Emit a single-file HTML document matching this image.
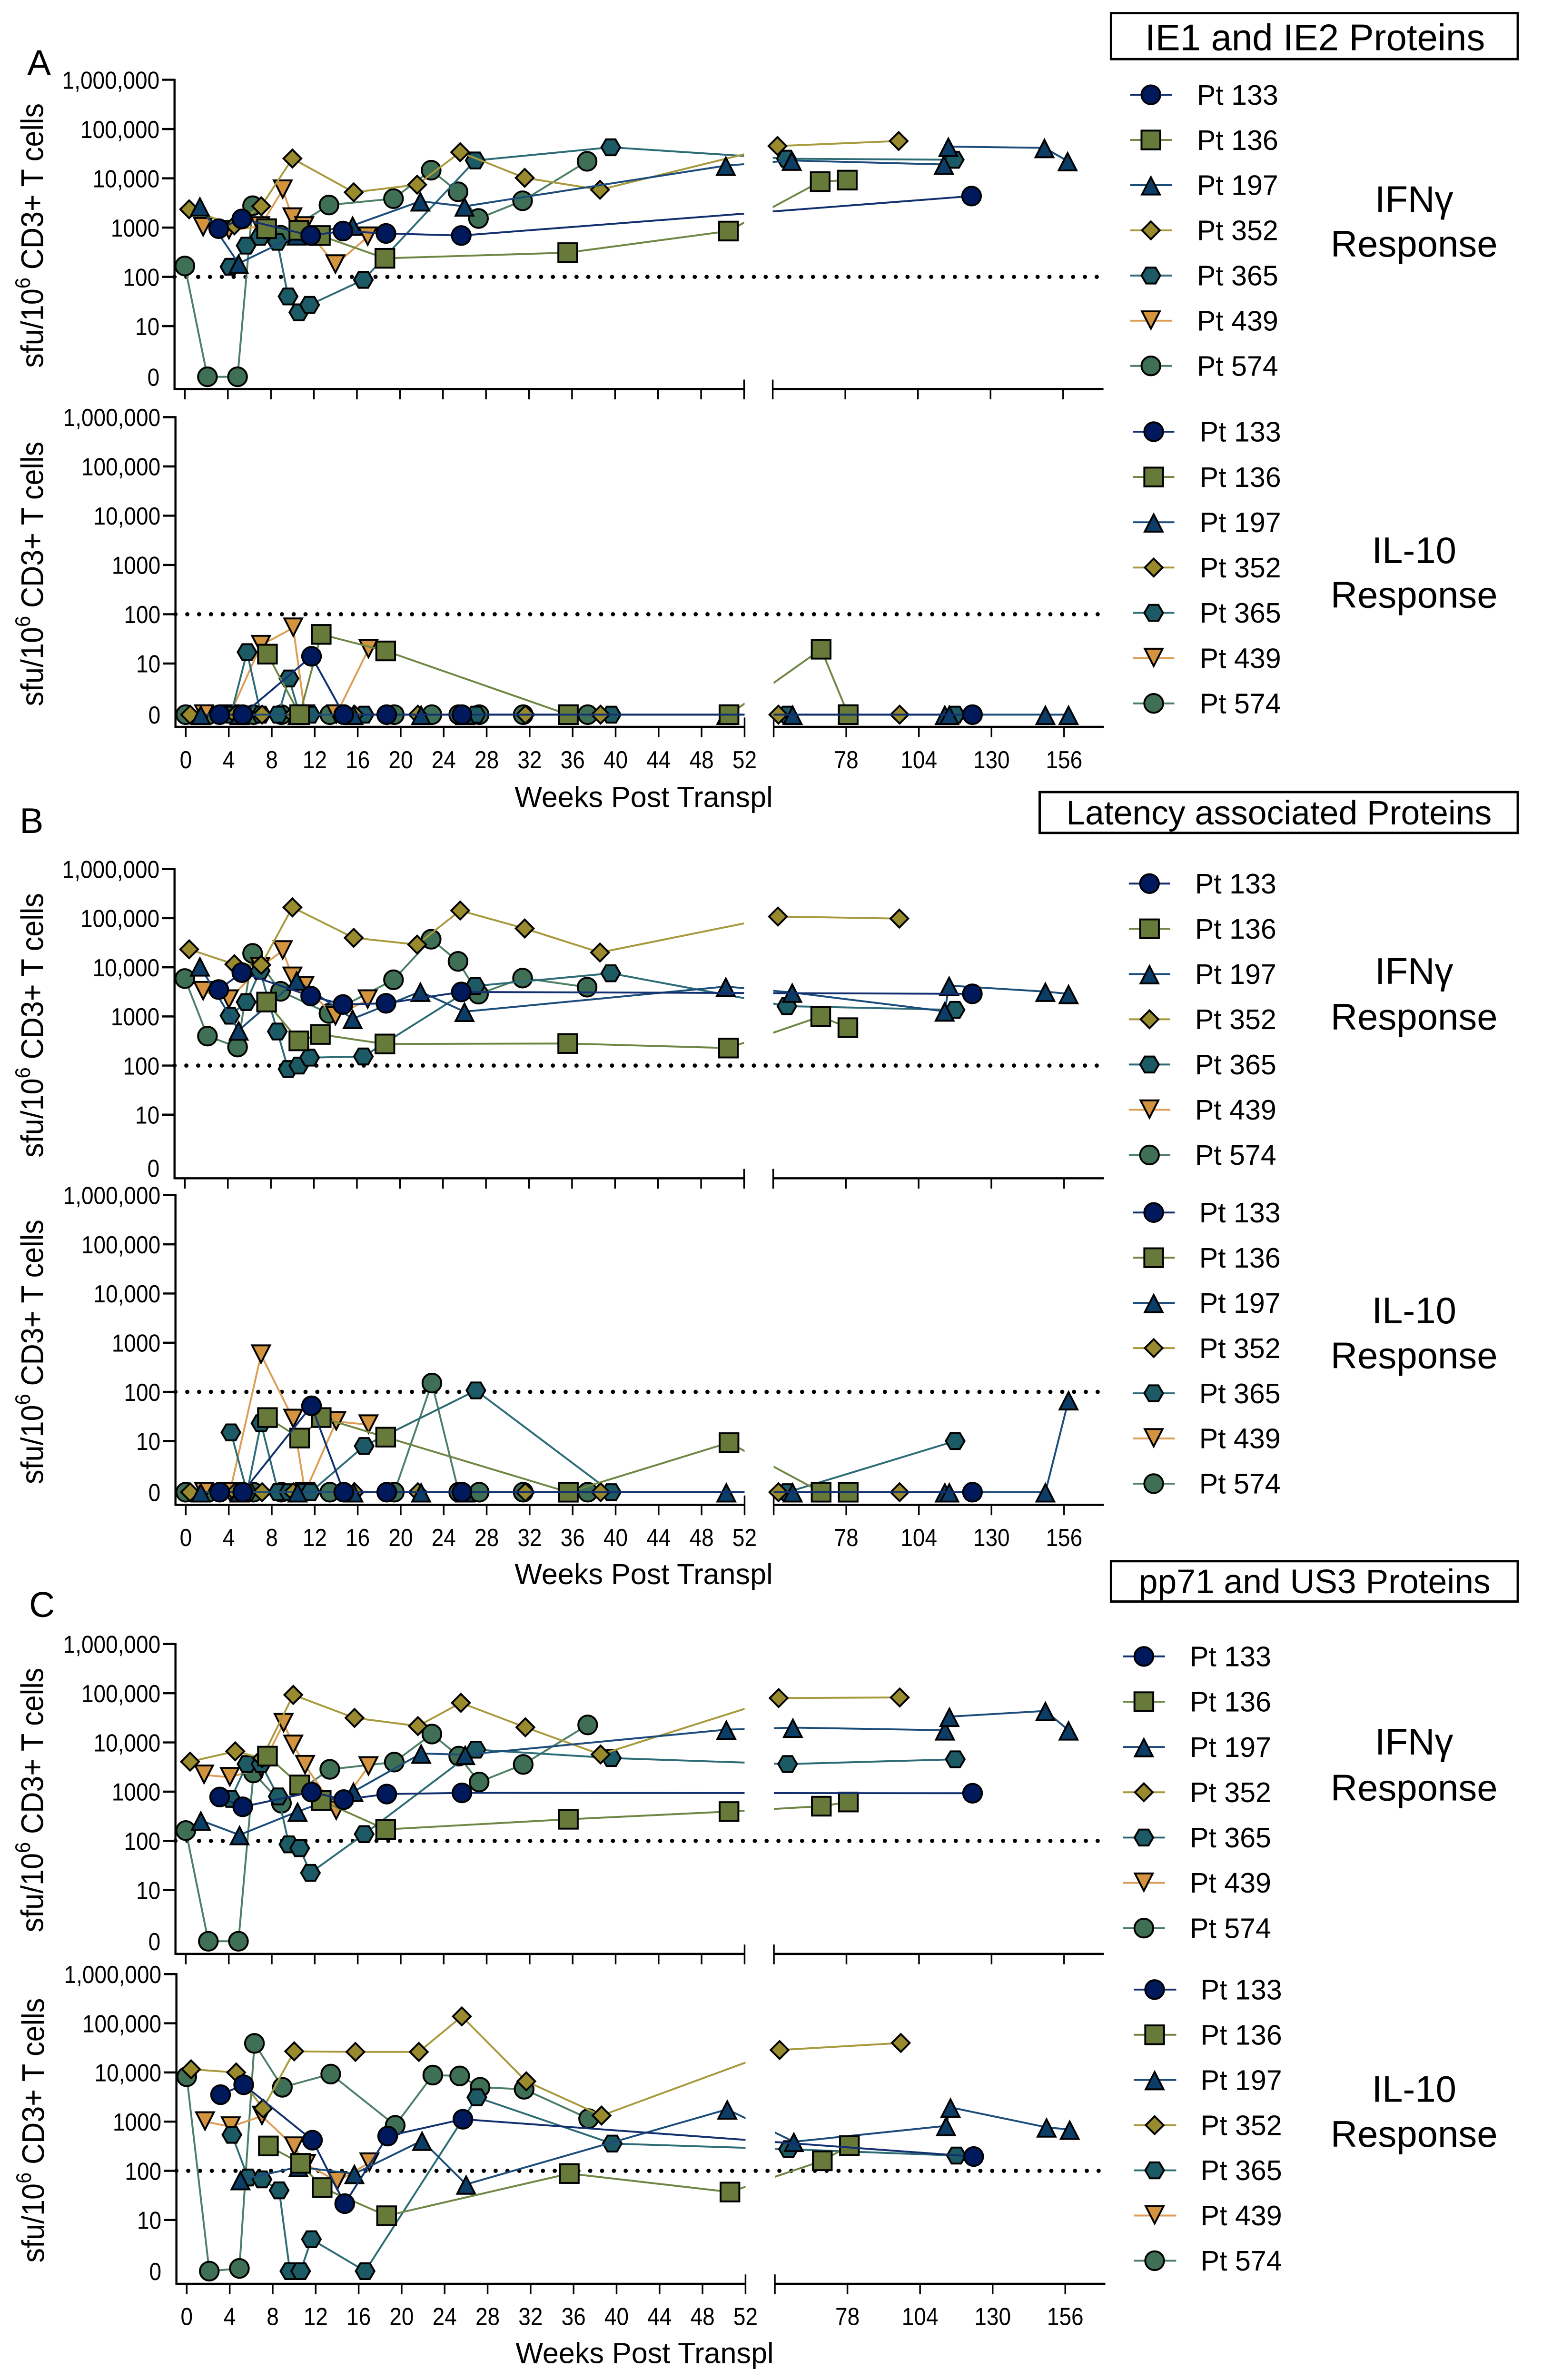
<!DOCTYPE html>
<html lang="en">
<head>
<meta charset="utf-8">
<title>T cell responses by patient</title>
<style>
html,body{margin:0;padding:0;background:#fff;width:100%;height:100%;overflow:hidden;}
svg{display:block;height:100vh;width:calc(100vh * 3282 / 5072);font-family:"Liberation Sans",Arial,sans-serif;}
text{fill:#000;}
</style>
</head>
<body>
<svg id="chart" xmlns="http://www.w3.org/2000/svg" viewBox="0 0 3282 5072" preserveAspectRatio="none">
  <rect x="0" y="0" width="3282" height="5072" fill="#fff"/>
  <text x="58" y="160" font-size="76">A</text>
  <text x="42" y="1775" font-size="76">B</text>
  <text x="62" y="3446" font-size="76">C</text>
  <rect x="2368" y="28" width="867" height="98" fill="#fff" stroke="#000" stroke-width="5"/>
  <text x="2803" y="107" font-size="79" text-anchor="middle">IE1 and IE2 Proteins</text>
  <rect x="2216" y="1688" width="1019" height="87" fill="#fff" stroke="#000" stroke-width="5"/>
  <text x="2726" y="1757" font-size="72.5" text-anchor="middle">Latency associated Proteins</text>
  <rect x="2368" y="3327" width="867" height="86" fill="#fff" stroke="#000" stroke-width="5"/>
  <text x="2802" y="3395" font-size="72.5" text-anchor="middle">pp71 and US3 Proteins</text>
</svg>
<script>
// ---------- categories ----------
const patientNames = ['Pt 133','Pt 136','Pt 197','Pt 352','Pt 365','Pt 439','Pt 574'];
const yTickLabels = ['1,000,000','100,000','10,000','1000','100','10','0'];
const xTicksEarly = [0,4,8,12,16,20,24,28,32,36,40,44,48,52];
const xTicksLate = [78,104,130,156];

// ---------- visit weeks per patient ----------
const weeks133 = [3.15,5.3,11.7,14.7,18.7,25.7,123.2];
const weeks136 = [7.6,10.6,12.6,18.6,35.6,50.55,69,78.7];
const weeks197 = [1.4,5,10.4,15.6,21.9,26,50.3,58.8,113.3,114.9,149.3,157.6];
const weeks352 = [0.4,4.6,7.1,10,15.7,21.6,25.6,31.6,38.6,53.7,97.1];
const weeks365 = [4.2,5.7,7,8.6,9.6,10.6,11.6,16.6,27,39.6,56.9,117];
const weeks439 = [1.7,4.1,7,9.1,10,11.1,14,17];
const weeks574 = [0,2.1,4.9,6.3,8.9,13.4,19.4,22.9,25.4,27.3,31.4,37.4];

// ---------- sfu values: panel A, IFN-gamma ----------
const aIfn133 = [950,1500,690,850,760,690,4360];
const aIfn136 = [950,880,690,238,310,850,8570,9200];
const aIfn197 = [2700,187,700,1100,3430,2700,18100,23000,19100,44000,41500,22400];
const aIfn352 = [2350,1110,2710,25200,5200,7430,33900,10230,5860,45200,57200];
const aIfn365 = [160,430,650,515,40,19,27,87,23000,42600,25000,23800];
const aIfn439 = [1010,880,1050,5860,1590,1050,177,650];
const aIfn574 = [166,0,0,2775,700,2870,3870,14600,5330,1530,3500,22100];
// ---------- panel A, IL-10 ----------
const aIl133 = [0,0,14,0,0,0,0];
const aIl136 = [15.5,0,39,18,0,0,19.5,0];
const aIl197 = [0,0,0,0,0,0,0,0,0,0,0,0];
const aIl352 = [0,0,0,0,0,0,0,0,0,0,0];
const aIl365 = [0,17,0,0,5.1,0,0,0,0,0,0,0];
const aIl439 = [0,0,23.5,null,53,0,0,19.5];
const aIl574 = [0,0,0,0,0,0,0,0,0,0,0,0];
// ---------- panel B, IFN-gamma ----------
const bIfn133 = [3520,7800,2600,1750,1850,3150,2880];
const bIfn136 = [1960,318,430,275,281,227,1000,590];
const bIfn197 = [10500,521,5400,895,3200,1250,4060,3070,1270,4240,3200,2880];
const bIfn352 = [23200,11560,11200,166000,39800,29000,143000,61700,20000,108000,98000];
const bIfn365 = [1035,1960,8450,493,85,100,145,153,4170,7550,1620,1360];
const bIfn439 = [3250,2190,10000,21900,6380,4070,1000,2190];
const bIfn574 = [5900,398,238,19200,3250,1150,5570,37200,13200,2840,6030,3940];
// ---------- panel B, IL-10 ----------
const bIl133 = [0,0,52,0,0,0,0];
const bIl136 = [30,11.5,30,12,0,9.3,0,0];
const bIl197 = [0,0,0,0,0,0,0,0,0,0,0,68];
const bIl352 = [0,0,0,0,0,0,0,0,0,0,0];
const bIl365 = [15,0,23,0,0,0,0,8,107,0,0,10];
const bIl439 = [0,0,569,null,28,0,25,21.5];
const bIl574 = [0,0,0,0,0,0,0,151,0,0,0,0];
// ---------- panel C, IFN-gamma ----------
const cIfn133 = [780,493,980,690,893,945,930];
const cIfn136 = [5270,1370,660,171,275,394,507,616];
const cIfn197 = [260,132,394,1000,5970,5630,18200,20000,17700,33400,43700,17700];
const cIfn352 = [4070,6600,4800,92500,31500,21500,63800,20300,5700,79700,82000];
const cIfn365 = [714,3640,3640,800,85,71,22.4,137,7140,4820,3640,4540];
const cIfn439 = [2190,1960,3000,24500,8900,3440,407,3240];
const cIfn574 = [162,0,0,2400,583,2840,3980,14800,5270,1570,3570,22700];
// ---------- panel C, IL-10 ----------
const cIl133 = [3530,5620,420,21.5,509,1120,195];
const cIl136 = [320,142,45.5,12.2,88,37,160,325];
const cIl197 = [null,65,120,87,411,53,1780,390,820,1950,767,690];
const cIl352 = [11600,10000,1850,26900,26200,26200,138000,6600,1330,28600,39800];
const cIl365 = [540,73,67,40,0,0,4.2,0,3120,358,275,204];
const cIl439 = [1000,790,1300,null,309,136,61,146];
const cIl574 = [8180,0,1.13,39000,5000,9270,840,8830,8500,5000,4550,1150];

// ---------- appearance (not data) ----------
const shapes = ['circle','square','triangle','diamond','hexagon','down','circle'];
const fills = ['#00185c','#677a3a','#0c3d66','#998a2d','#1c5a66','#d4933f','#3f7055'];
const strokes = ['#12306f','#6f8644','#1c4c7a','#a89a3c','#2d6b76','#dc9e55','#4d7f66'];
const allWeeks = [weeks133,weeks136,weeks197,weeks352,weeks365,weeks439,weeks574];

const panels = [
 {key:'a-ifn',series:[aIfn133,aIfn136,aIfn197,aIfn352,aIfn365,aIfn439,aIfn574],
  axisX:372,x0:394,x52:1586,xr:1647,x156:2266,end:2352,top:170,dec:105,zero:803,axisY:829,labels:false,
  titleY:502,titleX:92,legL:2409,legM:2453,legR:2498,legT:2551,legY:202,legStep:96.3,
  side:['IFN\u03B3','Response'],sideY:[452,547]},
 {key:'a-il10',series:[aIl133,aIl136,aIl197,aIl352,aIl365,aIl439,aIl574],
  axisX:374,x0:396,x52:1587,xr:1649,x156:2268,end:2353,top:889,dec:105,zero:1523,axisY:1549,labels:true,
  titleY:1223,titleX:92,legL:2415,legM:2459,legR:2503,legT:2557,legY:920,legStep:96.5,
  side:['IL-10','Response'],sideY:[1200,1295],weeksY:1720},
 {key:'b-ifn',series:[bIfn133,bIfn136,bIfn197,bIfn352,bIfn365,bIfn439,bIfn574],
  axisX:372,x0:394,x52:1586,xr:1648,x156:2268,end:2353,top:1852,dec:104.7,zero:2489,axisY:2511,labels:false,
  titleY:2185,titleX:92,legL:2406,legM:2450,legR:2494,legT:2547,legY:1883,legStep:96.4,
  side:['IFN\u03B3','Response'],sideY:[2097,2194]},
 {key:'b-il10',series:[bIl133,bIl136,bIl197,bIl352,bIl365,bIl439,bIl574],
  axisX:374,x0:396,x52:1587,xr:1649,x156:2268,end:2353,top:2547,dec:104.8,zero:3180,axisY:3207,labels:true,
  titleY:2881,titleX:92,legL:2415,legM:2459,legR:2504,legT:2556,legY:2584,legStep:96.3,
  side:['IL-10','Response'],sideY:[2820,2916],weeksY:3376},
 {key:'c-ifn',series:[cIfn133,cIfn136,cIfn197,cIfn352,cIfn365,cIfn439,cIfn574],
  axisX:374,x0:396,x52:1587,xr:1649.5,x156:2268,end:2353,top:3503.5,dec:104.9,zero:4137,axisY:4164,labels:false,
  titleY:3836,titleX:92,legL:2394,legM:2438,legR:2483,legT:2536,legY:3530,legStep:96.5,
  side:['IFN\u03B3','Response'],sideY:[3739,3837]},
 {key:'c-il10',series:[cIl133,cIl136,cIl197,cIl352,cIl365,cIl439,cIl574],
  axisX:376,x0:398,x52:1589,xr:1651.5,x156:2270.5,end:2356,top:4207,dec:104.8,zero:4840,axisY:4867,labels:true,
  titleY:4540,titleX:94,legL:2417,legM:2461,legR:2507,legT:2559,legY:4240,legStep:96.3,
  side:['IL-10','Response'],sideY:[4479,4575],weeksY:5036}
];

const NS = 'http://www.w3.org/2000/svg';
const root = document.getElementById('chart');
function mk(tag, attrs, parent) {
  const el = document.createElementNS(NS, tag);
  for (const k in attrs) el.setAttribute(k, attrs[k]);
  (parent || root).appendChild(el);
  return el;
}
function xScale(p, w) {
  if (w <= 52) return p.x0 + (p.x52 - p.x0) * w / 52;
  return p.xr + (p.x156 - p.xr) * (w - 52) / 104;
}
function yScale(p, v) {
  const y10 = p.top + 5 * p.dec;
  if (v <= 1) return p.zero;
  const lg = Math.log10(v);
  if (lg >= 1) return y10 - (lg - 1) * p.dec;
  return p.zero - lg * (p.zero - y10);
}
function drawMarker(parent, shape, cx, cy, fill) {
  const base = {fill: fill, stroke: '#000', 'stroke-width': 4, 'stroke-linejoin': 'miter'};
  let el;
  if (shape === 'circle') {
    el = mk('circle', Object.assign({cx: cx, cy: cy, r: 20}, base), parent);
  } else if (shape === 'square') {
    el = mk('rect', Object.assign({x: cx - 20, y: cy - 20, width: 40, height: 40}, base), parent);
  } else {
    let pts;
    if (shape === 'triangle') pts = [[0,-17],[19,20],[-19,20]];
    else if (shape === 'down') pts = [[-19,-20],[19,-20],[0,17]];
    else if (shape === 'diamond') pts = [[0,-19],[19,0],[0,19],[-19,0]];
    else pts = [[-20,0],[-10,-17],[10,-17],[20,0],[10,17],[-10,17]];
    el = mk('polygon', Object.assign({points: pts.map(q => (cx + q[0]) + ',' + (cy + q[1])).join(' ')}, base), parent);
  }
  return el;
}

panels.forEach(function (p) {
  const g = mk('g', {});
  
  

  // clip so lines are broken across the axis gap
  const clip = mk('clipPath', {id: 'clip-' + p.key}, g);
  mk('rect', {x: 0, y: p.top - 60, width: p.x52, height: p.axisY - p.top + 120}, clip);
  mk('rect', {x: p.xr, y: p.top - 60, width: 1500, height: p.axisY - p.top + 120}, clip);

  // threshold at 100 sfu
  const thr = mk('line', {x1: p.axisX, x2: p.end - 12, y1: yScale(p, 100), y2: yScale(p, 100),
    stroke: '#000', 'stroke-width': 9, 'stroke-linecap': 'round', 'stroke-dasharray': '0 25.2'}, g);
  
  

  // axes
  const yAxis = mk('line', {x1: p.axisX, x2: p.axisX, y1: p.top - 2, y2: p.axisY + 2, stroke: '#000', 'stroke-width': 4.5}, g);
  
  
  const xAxisA = mk('line', {x1: p.axisX, x2: p.x52, y1: p.axisY, y2: p.axisY, stroke: '#000', 'stroke-width': 4.5}, g);
  
  
  const xAxisB = mk('line', {x1: p.xr, x2: p.end, y1: p.axisY, y2: p.axisY, stroke: '#000', 'stroke-width': 4.5}, g);
  
  

  // y ticks
  yTickLabels.forEach(function (lab, i) {
    const ty = i === 6 ? p.zero : p.top + i * p.dec;
    if (i < 6) {
      const t = mk('line', {x1: p.axisX - 27, x2: p.axisX, y1: ty, y2: ty, stroke: '#000', 'stroke-width': 4.5}, g);
      
      
    }
    const txt = mk('text', {transform: 'translate(' + (p.axisX - 32) + ',' + (ty + 19) + ') scale(0.88,1)', 'font-size': 53, 'text-anchor': 'end'}, g);
    txt.textContent = lab;
    
    
  });

  // x ticks
  xTicksEarly.forEach(function (w) {
    const tx = xScale(p, w);
    const top = w === 52 ? p.axisY - 20 : p.axisY;
    const t = mk('line', {x1: tx, x2: tx, y1: top, y2: p.axisY + 22, stroke: '#000', 'stroke-width': 3.5}, g);
    
    
    if (p.labels) {
      const txt = mk('text', {transform: 'translate(' + tx + ',' + (p.axisY + 88) + ') scale(0.88,1)', 'font-size': 53, 'text-anchor': 'middle'}, g);
      txt.textContent = String(w);
      
      
    }
  });
  const brk = mk('line', {x1: p.xr, x2: p.xr, y1: p.axisY - 20, y2: p.axisY + 22, stroke: '#000', 'stroke-width': 3.5}, g);
  
  
  xTicksLate.forEach(function (w) {
    const tx = xScale(p, w);
    const t = mk('line', {x1: tx, x2: tx, y1: p.axisY, y2: p.axisY + 22, stroke: '#000', 'stroke-width': 3.5}, g);
    
    
    if (p.labels) {
      const txt = mk('text', {transform: 'translate(' + tx + ',' + (p.axisY + 88) + ') scale(0.88,1)', 'font-size': 53, 'text-anchor': 'middle'}, g);
      txt.textContent = String(w);
      
      
    }
  });

  // axis titles
  const yt = mk('text', {transform: 'translate(' + p.titleX + ',' + p.titleY + ') rotate(-90) scale(1,1.08)', 'font-size': 62, 'text-anchor': 'middle'}, g);
  
  
  const t1 = mk('tspan', {}, yt);
  t1.textContent = 'sfu/10';
  const t2 = mk('tspan', {dy: -26, 'font-size': 42}, yt);
  t2.textContent = '6';
  const t3 = mk('tspan', {dy: 26}, yt);
  t3.textContent = ' CD3+ T cells';

  if (p.labels) {
    const wt = mk('text', {x: (p.x0 + 976), y: p.weeksY, 'font-size': 62, 'text-anchor': 'middle'}, g);
    wt.textContent = 'Weeks Post Transpl';
    
    
  }

  // series: back-to-front (last listed patient is at the back)
  for (let s = 6; s >= 0; s--) {
    const sg = mk('g', {}, g);
    
    
    const vals = p.series[s];
    const wk = allWeeks[s];
    const pts = [];
    vals.forEach(function (v, i) {
      if (v === null) return;
      pts.push([xScale(p, wk[i]), yScale(p, v)]);
    });
    const line = mk('polyline', {points: pts.map(q => q[0] + ',' + q[1]).join(' '), fill: 'none',
      stroke: strokes[s], 'stroke-width': 4, 'clip-path': 'url(#clip-' + p.key + ')'}, sg);
    
    
    pts.forEach(function (q) {
      const m = drawMarker(sg, shapes[s], q[0], q[1], fills[s]);
      
      
    });
  }

  // legend
  patientNames.forEach(function (name, s) {
    const ly = p.legY + s * p.legStep;
    const lg = mk('g', {}, g);
    
    
    const l = mk('line', {x1: p.legL, x2: p.legR, y1: ly, y2: ly, stroke: strokes[s], 'stroke-width': 4}, lg);
    
    
    const m = drawMarker(lg, shapes[s], p.legM, ly, fills[s]);
    
    
    const t = mk('text', {x: p.legT, y: ly + 21, 'font-size': 60}, lg);
    t.textContent = name;
    
    
  });

  // response label
  p.side.forEach(function (txt, i) {
    const t = mk('text', {x: 3014, y: p.sideY[i], 'font-size': 79, 'text-anchor': 'middle'}, g);
    t.textContent = txt;
    
    
  });
});
</script>
</body>
</html>
